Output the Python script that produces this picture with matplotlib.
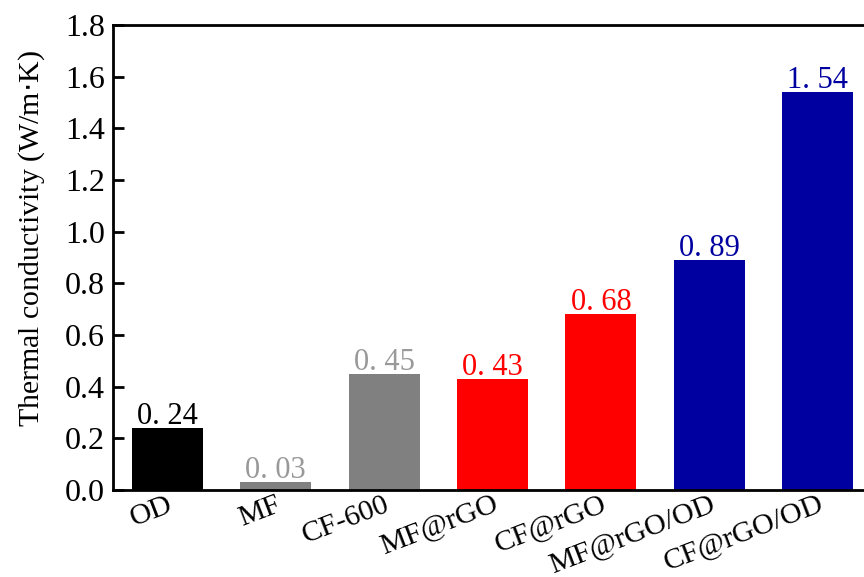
import numpy as np
import matplotlib
matplotlib.use('Agg')
import matplotlib.pyplot as plt

#---------------------- DATA
samples = ["OD", "MF", "CF-600", "MF@rGO", "CF@rGO", "MF@rGO/OD", "CF@rGO/OD"]
tc      = [0.24, 0.03, 0.45, 0.43, 0.68, 0.89, 1.54]
barcol  = ["#000000", "#808080", "#808080", "#ff0000", "#ff0000", "#0000a0", "#0000a0"]
txtcol  = ["#000000", "#999999", "#999999", "#ff0000", "#ff0000", "#0000a0", "#0000a0"]
yticks  = np.arange(0, 1.81, 0.2)

#---------------------- PLOTTING
plt.rcParams['font.family'] = 'Liberation Serif'

fig = plt.figure(figsize=(8.64, 5.77), dpi=100)
# axes runs past the right edge of the picture, like the reference
ax = fig.add_axes([113/864., 1-490/577., (872-113)/864., (490-25)/577.])

x = np.arange(len(samples))
ax.bar(x, tc, width=0.655, color=barcol)
for i in range(len(x)):
    lab = "%1.2f" % tc[i]
    lab = lab.replace(".", ". ")   # spaced digits as in the original
    ax.text(x[i], tc[i]+0.016, lab, color=txtcol[i], fontsize=22,
            ha='center', va='baseline')

ax.set_xlim(-0.5, 6.5)
ax.set_ylim(0, 1.8)
ax.set_yticks(yticks)
ax.set_yticklabels(["%1.1f" % t for t in yticks], fontsize=23)
ax.set_xticks(x)
ax.set_xticklabels(samples, fontsize=21.5, rotation=21, ha='right', rotation_mode='anchor')
ax.tick_params(axis='y', direction='in', length=8, width=2, pad=6)
ax.tick_params(axis='x', length=0, pad=1)
ax.set_ylabel('Thermal conductivity (W/m$\\cdot$K)', fontsize=21.5)
ax.yaxis.set_label_coords(-0.087, 0.54)

for s in ['left', 'top', 'bottom', 'right']:
    ax.spines[s].set_linewidth(2)

plt.savefig('out.png', dpi=100)
